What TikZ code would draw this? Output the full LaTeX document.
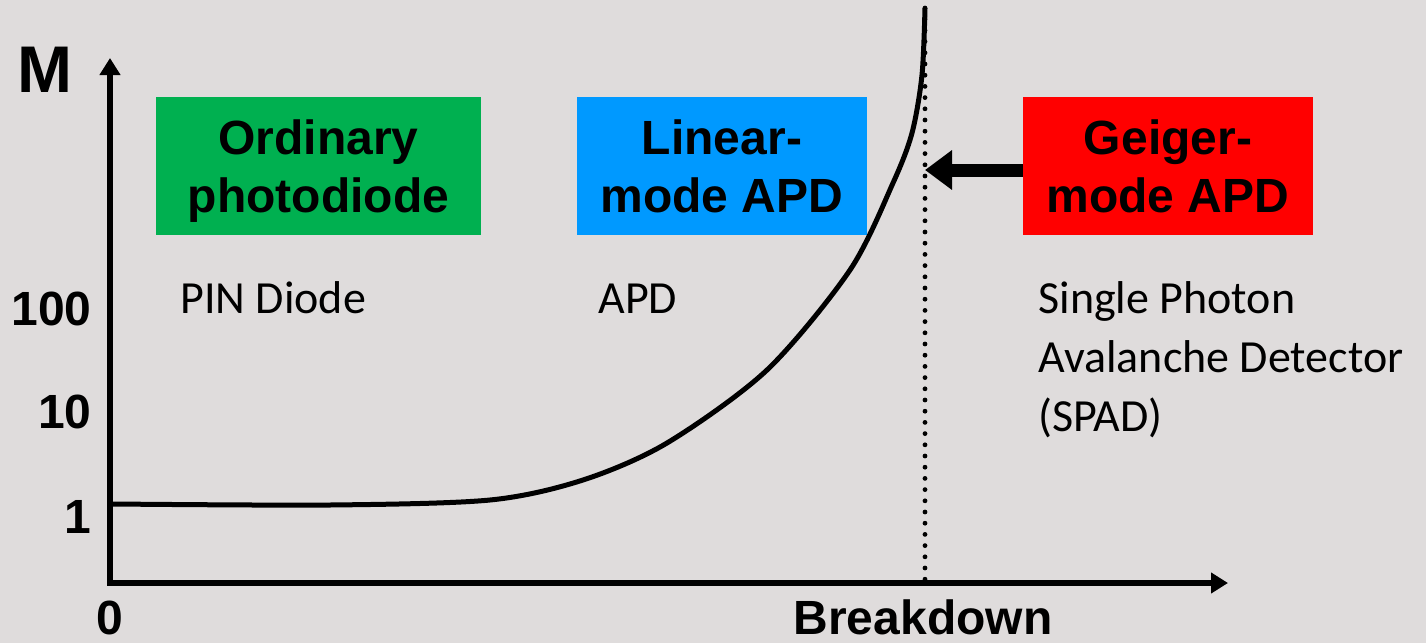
\documentclass[tikz,border=0pt]{standalone}
\usepackage{fontspec}
\setmainfont{Carlito}
\newfontfamily\arialfont{Liberation Sans}
\usetikzlibrary{arrows.meta,positioning}
\definecolor{slidegray}{RGB}{223,220,220}
\definecolor{pdgreen}{RGB}{0,176,80}
\definecolor{apdblue}{RGB}{0,153,255}
\definecolor{geigerred}{RGB}{255,0,0}

\begin{document}
\begin{tikzpicture}[x=0.5pt, y=-0.5pt,
    modebox/.style={inner sep=0pt, minimum height=69pt, align=center, text depth=0pt,
      font=\arialfont\bfseries\fontsize{24}{29}\selectfont},
    boldlabel/.style={inner sep=0pt, font=\arialfont\bfseries\fontsize{24}{29}\selectfont},
    note/.style={inner sep=0pt, anchor=base west, align=left,
      font=\fontsize{23}{29.5}\selectfont},
    axis/.style={line width=3pt, {Triangle[length=8.5pt,width=10pt]}-{Triangle[length=8.5pt,width=10pt]}},
    gain/.style={line width=2.5pt, line join=round},
    pointer/.style={line width=6.5pt, -{Triangle[length=13.5pt,width=19pt]}}
  ]
    \fill[slidegray] (0,0) rectangle (1426,643);
    \useasboundingbox (0,0) rectangle (1426,643);

    % axes
    \coordinate (O) at (110,583);
    \coordinate (ytip) at (110,58);
    \coordinate (xtip) at (1228,583);
    \coordinate (bd) at (925,583);
    \coordinate (bdtop) at (925,8);

    \node[boldlabel, anchor=base, font=\arialfont\bfseries\fontsize{33}{36}\selectfont] (mlabel) at (45,92) {M};
    \node[boldlabel, anchor=base east] (t100) at (92,325) {100};
    \node[boldlabel, anchor=base east] (t10) at (92,428) {10};
    \node[boldlabel, anchor=base east] (t1) at (92,533) {1};
    \node[boldlabel, anchor=base] (t0) at (110,634) {0};
    \node[boldlabel, anchor=base] (breakdown) at (923,634) {Breakdown};

    % modes
    \node[modebox, fill=pdgreen, minimum width=162.5pt] (ordinary) at (318.5,166) {Ordinary\\photodiode};
    \node[modebox, fill=apdblue, minimum width=145pt] (linear) at (722,166) {Linear-\\mode APD};
    \node[modebox, fill=geigerred, minimum width=145pt] (geiger) at (1168,166) {Geiger-\\mode APD};

    \node[note] (pin) at (180,313) {PIN Diode};
    \node[note] (apd) at (598,313) {APD};
    \node[note] (spad) at (1038,431) {Single Photon\\Avalanche Detector\\(SPAD)};

    \draw[line width=2.4pt, line cap=round, dash pattern=on 0pt off 5.6pt] (bdtop) -- (bd);
    \draw[axis] (ytip) -- (O) -- (xtip);

    \draw[gain] plot[smooth, tension=0.5] coordinates {(113,504) (330,505) (490,500) (583,480) (667,443) (767,370) (850,270) (893,183) (912,133) (922,75) (925,8)};

    \coordinate (arrowstart) at ([yshift=-2pt]geiger.west);
    \draw[pointer] (arrowstart) -- (arrowstart -| bd);
  \end{tikzpicture}
\end{document}
